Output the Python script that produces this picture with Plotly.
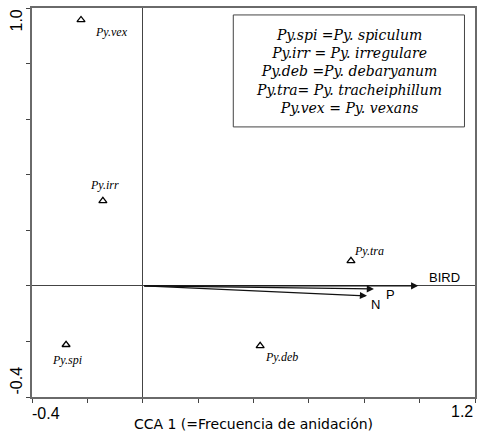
import plotly.graph_objects as go

# Species scores
species = ["Py.vex", "Py.irr", "Py.spi", "Py.deb", "Py.tra"]
sp_x = [-0.223, -0.144, -0.277, 0.424, 0.752]
sp_y = [0.957, 0.306, -0.212, -0.216, 0.090]

# Environmental vectors
env_names = ["BIRD", "P", "N"]
env_x = [0.995, 0.835, 0.810]
env_y = [0.000, -0.011, -0.036]

legend_lines = [
    "Py.spi =Py. spiculum",
    "Py.irr = Py. irregulare",
    "Py.deb =Py. debaryanum",
    "Py.tra= Py. tracheiphillum",
    "Py.vex = Py. vexans",
]

x_tick_labels = ["-0.4", "1.2"]
y_tick_labels = ["1.0", "-0.4"]
x_title = "CCA 1 (=Frecuencia de anidación)"

AX = "#444444"
FRAME = "#6a6a6a"
serif = "Liberation Serif, Times New Roman, serif"
wserif = "DejaVu Serif, serif"
sans = "Liberation Sans, Arial, sans-serif"
wsans = "DejaVu Sans, sans-serif"

fig = go.Figure()
fig.add_trace(go.Scatter(
    x=sp_x, y=sp_y, mode="markers",
    marker=dict(symbol="triangle-up-open", size=7, color="black", line=dict(width=1.3)),
    showlegend=False, hoverinfo="skip"))

# species labels offsets (pixels)
lab_shift = {"Py.vex": (30, -12), "Py.irr": (2, 16), "Py.spi": (1, -15),
             "Py.deb": (21, -11), "Py.tra": (18, 10)}
ann = []
for n, x, y in zip(species, sp_x, sp_y):
    dx, dy = lab_shift[n]
    ann.append(dict(x=x, y=y, xref="x", yref="y", text=f"<i>{n}</i>", showarrow=False,
                    xshift=dx, yshift=dy, font=dict(family=serif, size=12, color="black")))

# arrows
env_shift = {"BIRD": (26, 8), "P": (17, -6), "N": (8, -9)}
for n, x, y in zip(env_names, env_x, env_y):
    ann.append(dict(x=x, y=y, xref="x", yref="y", ax=0, ay=0, axref="x", ayref="y",
                    text="", showarrow=True, arrowhead=2, arrowsize=1.1, arrowwidth=1.3,
                    arrowcolor="#111111", standoff=0, startstandoff=0))
    dx, dy = env_shift[n]
    ann.append(dict(x=x, y=y, xref="x", yref="y", text=n, showarrow=False,
                    xshift=dx, yshift=dy,
                    font=dict(family=sans, size=13, color="black")))

# legend text box
ann.append(dict(x=0.745, y=0.773, xref="x", yref="y", showarrow=False,
                text="<br>".join(f"<i>{l}</i>" for l in legend_lines),
                align="center", font=dict(family=wserif, size=14, color="black")))

# end tick labels
ann.append(dict(x=-0.4, y=-0.4, xref="x", yref="y", text=x_tick_labels[0], showarrow=False,
                xanchor="left", yanchor="top", xshift=-2, yshift=-6,
                font=dict(family=sans, size=16, color="black")))
ann.append(dict(x=1.2, y=-0.4, xref="x", yref="y", text=x_tick_labels[1], showarrow=False,
                xanchor="right", yanchor="top", xshift=0, yshift=-4,
                font=dict(family=sans, size=16, color="black")))
ann.append(dict(x=-0.4, y=1.0, xref="x", yref="y", text=y_tick_labels[0], showarrow=False,
                textangle=-90, xanchor="right", yanchor="top", xshift=-6, yshift=0,
                font=dict(family=sans, size=16, color="black")))
ann.append(dict(x=-0.4, y=-0.4, xref="x", yref="y", text=y_tick_labels[1], showarrow=False,
                textangle=-90, xanchor="right", yanchor="bottom", xshift=-6, yshift=0,
                font=dict(family=sans, size=16, color="black")))

fig.update_layout(
    width=480, height=436,
    margin=dict(l=32, r=3, t=8, b=39),
    paper_bgcolor="white", plot_bgcolor="white",
    annotations=ann,
    shapes=[dict(type="rect", xref="x", yref="y", x0=0.327, x1=1.162, y0=0.572, y1=0.975,
                 line=dict(color=AX, width=1), fillcolor="white", layer="below")],
    xaxis=dict(range=[-0.4, 1.2], showgrid=False, zeroline=True, zerolinecolor=AX, zerolinewidth=1,
               showline=True, linecolor=FRAME, linewidth=1.5, mirror=True,
               ticks="outside", ticklen=4, tickcolor=AX, tickvals=[-0.4 + 0.2 * i for i in range(9)],
               showticklabels=False,
               title=dict(text=x_title, font=dict(family=wsans, size=14, color="black"), standoff=17)),
    yaxis=dict(range=[-0.4, 1.0], showgrid=False, zeroline=True, zerolinecolor=AX, zerolinewidth=1,
               showline=True, linecolor=FRAME, linewidth=1.5, mirror=True,
               ticks="outside", ticklen=4, tickcolor=AX, tickvals=[-0.4 + 0.2 * i for i in range(8)],
               showticklabels=False),
)
fig.write_html("out.html", config={"displayModeBar": False},
               post_script="document.body.style.margin='0';document.body.style.overflow='hidden';")
